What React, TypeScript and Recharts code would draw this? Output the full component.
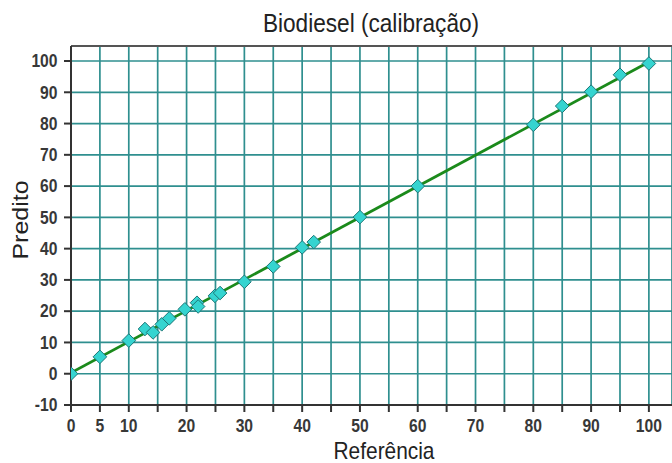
import React from 'react';
import { ScatterChart, Scatter, XAxis, YAxis, CartesianGrid, ReferenceLine } from 'recharts';

const referenceValues = [0, 5, 10, 12.8, 14.2, 15.7, 17, 19.7, 21.8, 22, 24.9, 25.8, 30, 35, 40, 42, 50, 60, 80, 85, 90, 95, 100];
const predictedValues = [0, 5.4, 10.6, 14.3, 13.2, 15.8, 17.7, 20.6, 22.7, 21.5, 24.9, 25.8, 29.4, 34.3, 40.4, 42.1, 50.1, 60, 79.6, 85.6, 90.2, 95.6, 99.2];
const fitX = [0, 100];
const fitY = [0.3, 99.7];
const xTicks = [0, 5, 10, 15, 20, 25, 30, 35, 40, 45, 50, 55, 60, 65, 70, 75, 80, 85, 90, 95, 100];
const xLabeled = [0, 5, 10, 20, 30, 40, 50, 60, 70, 80, 90, 100];
const yTicks = [-10, 0, 10, 20, 30, 40, 50, 60, 70, 80, 90, 100];
const xDomain = [0, 104];
const yDomain = [-10, 104.8];
const titleText = 'Biodiesel (calibração)';
const xLabelText = 'Referência';
const yLabelText = 'Predito';

const points = referenceValues.map((x, i) => ({ x, y: predictedValues[i] }));
const fitLine = fitX.map((x, i) => ({ x, y: fitY[i] }));

const FONT = '"Liberation Sans", Arial, sans-serif';
const SQUEEZE = 0.87;

const Diamond = (props: any) => {
  const { cx, cy } = props;
  if (cx == null || cy == null) return <g />;
  const r = 6.8;
  return (
    <polygon
      points={`${cx},${cy - r} ${cx + r},${cy} ${cx},${cy + r} ${cx - r},${cy}`}
      fill="#35d4d0"
      stroke="#1d7676"
      strokeWidth={1}
    />
  );
};

const NoDot = () => <g />;

const XTick = (props: any) => {
  const { x, y, payload } = props;
  const v = payload?.value;
  if (!xLabeled.includes(v)) return <g />;
  return (
    <text
      transform={`translate(${x},${y + 19.5}) scale(${SQUEEZE},1)`}
      textAnchor="middle"
      fill="#383838"
      fontSize={18}
      fontWeight="bold"
      fontFamily={FONT}
    >
      {String(v)}
    </text>
  );
};

const YTick = (props: any) => {
  const { x, y, payload } = props;
  return (
    <text
      transform={`translate(${x - 6.5},${y + 6.3}) scale(${SQUEEZE},1)`}
      textAnchor="end"
      fill="#383838"
      fontSize={18}
      fontWeight="bold"
      fontFamily={FONT}
    >
      {String(payload?.value)}
    </text>
  );
};

export default function App() {
  return (
    <div style={{ position: 'absolute', left: 0, top: 0, width: 672, height: 463, background: '#fff', overflow: 'hidden' }}>
      <ScatterChart width={672} height={463} margin={{ top: 46, right: 0, bottom: 0, left: 0 }}>
        <CartesianGrid stroke="#2f8f8f" strokeWidth={1.7} />
        <XAxis
          type="number"
          dataKey="x"
          domain={xDomain}
          ticks={xTicks}
          interval={0}
          allowDataOverflow
          height={58}
          axisLine={{ stroke: '#333', strokeWidth: 2 }}
          tickLine={{ stroke: '#333', strokeWidth: 2 }}
          tickSize={7}
          tickMargin={0}
          tick={<XTick />}
        />
        <YAxis
          type="number"
          dataKey="y"
          domain={yDomain}
          ticks={yTicks}
          interval={0}
          allowDataOverflow
          width={71}
          axisLine={{ stroke: '#333', strokeWidth: 2 }}
          tickLine={{ stroke: '#333', strokeWidth: 2 }}
          tickSize={7}
          tickMargin={0}
          tick={<YTick />}
        />
        <ReferenceLine y={yDomain[1]} stroke="#555" strokeWidth={2} ifOverflow="extendDomain" />
        <Scatter data={fitLine} line={{ stroke: '#1b8a1b', strokeWidth: 2.8 }} shape={NoDot} isAnimationActive={false} legendType="none" />
        <Scatter data={points} shape={Diamond} isAnimationActive={false} legendType="none" />
      </ScatterChart>
      <svg width={672} height={463} style={{ position: 'absolute', left: 0, top: 0, pointerEvents: 'none' }}>
        <text
          transform={`translate(371,31.5) scale(${SQUEEZE},1)`}
          textAnchor="middle"
          fill="#222"
          fontSize={26}
          fontFamily={FONT}
        >
          {titleText}
        </text>
        <text
          transform={`translate(384,459) scale(${SQUEEZE},1)`}
          textAnchor="middle"
          fill="#222"
          fontSize={24}
          fontFamily={FONT}
        >
          {xLabelText}
        </text>
        <text
          transform={`translate(28.3,220) rotate(-90) scale(1,${SQUEEZE})`}
          textAnchor="middle"
          fill="#222"
          fontSize={25}
          fontFamily={FONT}
        >
          {yLabelText}
        </text>
      </svg>
    </div>
  );
}
